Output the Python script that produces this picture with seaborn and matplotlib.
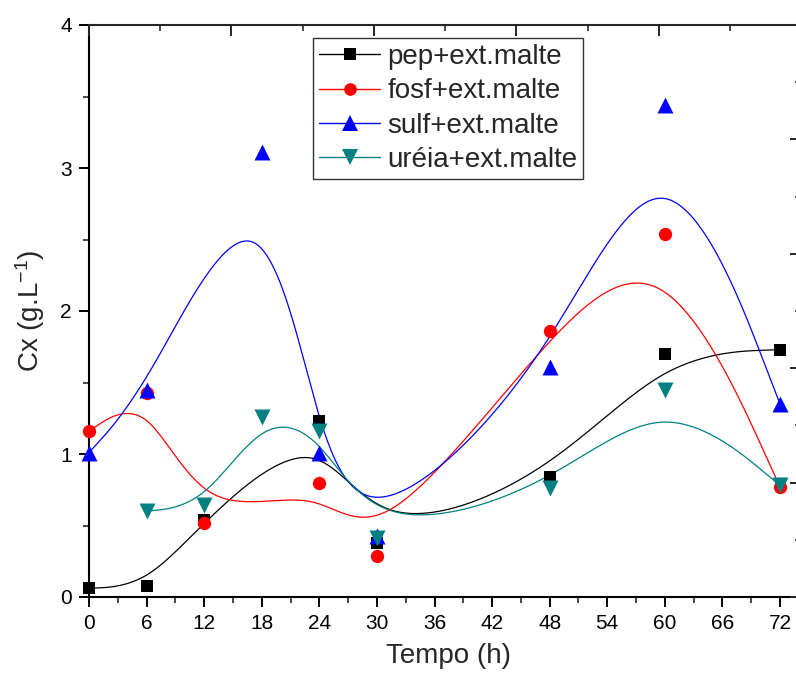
import numpy as np
import pandas as pd
import matplotlib
matplotlib.use("Agg")
import matplotlib.pyplot as plt
from matplotlib.lines import Line2D
from matplotlib.ticker import MultipleLocator
import seaborn as sns

# Biomass concentration (Cx, g/L) over time for each nitrogen source + malt extract
tempo_h = [0, 6, 12, 24, 30, 48, 60, 72]
pep = [0.06, 0.08, 0.54, 1.23, 0.38, 0.84, 1.70, 1.73]
fosf = [1.16, 1.43, 0.52, 0.80, 0.29, 1.86, 2.54, 0.77]

tempo_sulf = [0, 6, 18, 24, 30, 48, 60, 72]
sulf = [1.01, 1.45, 3.11, 1.01, 0.43, 1.61, 3.44, 1.35]

tempo_ureia = [6, 12, 18, 24, 30, 48, 60, 72]
ureia = [0.60, 0.64, 1.26, 1.16, 0.41, 0.76, 1.45, 0.78]

labels = ["pep+ext.malte", "fosf+ext.malte", "sulf+ext.malte", "uréia+ext.malte"]
colors = ["#000000", "#FF0000", "#0000FF", "#008080"]
markers = ["s", "o", "^", "v"]
msizes = [8.6, 9.6, 11.5, 11.5]

series = [
    (tempo_h, pep),
    (tempo_h, fosf),
    (tempo_sulf, sulf),
    (tempo_ureia, ureia),
]


def bspline_curve(xs, ys, per_seg=80):
    """Uniform cubic B-spline with the data points as control points
    (end points tripled so the curve starts and ends on them)."""
    P = np.column_stack([xs, ys]).astype(float)
    Q = np.vstack([P[:1], P[:1], P, P[-1:], P[-1:]])
    t = np.linspace(0, 1, per_seg)
    b0 = (1 - t) ** 3 / 6
    b1 = (3 * t ** 3 - 6 * t ** 2 + 4) / 6
    b2 = (-3 * t ** 3 + 3 * t ** 2 + 3 * t + 1) / 6
    b3 = t ** 3 / 6
    pts = []
    for i in range(len(Q) - 3):
        seg = (np.outer(b0, Q[i]) + np.outer(b1, Q[i + 1])
               + np.outer(b2, Q[i + 2]) + np.outer(b3, Q[i + 3]))
        pts.append(seg)
    C = np.vstack(pts)
    return C[:, 0], C[:, 1]


sns.set_style("white")
plt.rcParams["font.family"] = ["Liberation Sans", "DejaVu Sans"]
plt.rcParams["mathtext.fontset"] = "custom"
plt.rcParams["mathtext.rm"] = "Liberation Sans"
plt.rcParams["mathtext.it"] = "Liberation Sans"

W, H = 796, 684
fig = plt.figure(figsize=(W / 100, H / 100), dpi=100)

x0_px, y0_px, ytop_px = 89, 597, 25
px_per_h = (780 - 89) / 72.0
xmax = 75
ax = fig.add_axes([x0_px / W, 1 - y0_px / H, xmax * px_per_h / W, (y0_px - ytop_px) / H])

for (xs, ys), c, m, ms in zip(series, colors, markers, msizes):
    cx, cy = bspline_curve(xs, ys)
    sns.lineplot(x=cx, y=cy, sort=False, estimator=None, color=c, linewidth=0.9, ax=ax)
    sns.scatterplot(x=xs, y=ys, marker=m, s=ms ** 2, color=c, linewidth=0, ax=ax,
                    zorder=3, clip_on=False)

ax.set_xlim(0, xmax)
ax.set_ylim(0, 4)
ax.xaxis.set_minor_locator(MultipleLocator(3))
ax.yaxis.set_major_locator(MultipleLocator(1))
ax.yaxis.set_minor_locator(MultipleLocator(0.5))
ax.set_xticks(range(0, 73, 6))
ax.set_xticklabels([str(t) for t in range(0, 73, 6)])
for s in ["top", "right"]:
    ax.spines[s].set_visible(False)
for s in ["left", "bottom"]:
    ax.spines[s].set_linewidth(1.5)
    ax.spines[s].set_color("black")
ax.tick_params(which="major", direction="out", length=7.5, width=1.4, labelsize=15,
               pad=5, colors="black")
ax.tick_params(which="minor", direction="out", length=4, width=1.2)
ax.tick_params(axis="x", which="both", bottom=True)
ax.tick_params(axis="y", which="both", left=True)
ax.set_xlabel("Tempo (h)", fontsize=20, labelpad=7)
ax.set_ylabel("Cx (g.L$^{-1}$)", fontsize=20, labelpad=9)
ax.patch.set_alpha(0)

# Frame layer: top axis and right axis with inward ticks, no labels
ax2 = fig.add_axes([x0_px / W, 1 - y0_px / H, 712.5 / W, (y0_px - ytop_px) / H])
ax2.set_xlim(0, 5)
ax2.set_ylim(0, 5)
ax2.patch.set_alpha(0)
for s in ["left", "bottom"]:
    ax2.spines[s].set_visible(False)
for s in ["top", "right"]:
    ax2.spines[s].set_linewidth(1.5)
ax2.xaxis.set_major_locator(MultipleLocator(1))
ax2.xaxis.set_minor_locator(MultipleLocator(0.5))
ax2.yaxis.set_major_locator(MultipleLocator(1))
ax2.yaxis.set_minor_locator(MultipleLocator(0.5))
ax2.tick_params(axis="x", which="both", top=True, bottom=False, labeltop=False,
                labelbottom=False, direction="in")
ax2.tick_params(axis="y", which="both", right=True, left=False, labelright=False,
                labelleft=False, direction="in")
ax2.tick_params(which="major", length=8, width=1.4)
ax2.tick_params(which="minor", length=4.5, width=1.2)

handles = [Line2D([], [], color=c, lw=1, marker=m, markersize=ms * 0.95, markeredgewidth=0)
           for c, m, ms in zip(colors, markers, msizes)]
leg = fig.legend(handles, labels, loc="upper left",
                 bbox_to_anchor=(313 / W, 1 - 38 / H), bbox_transform=fig.transFigure,
                 fontsize=20, frameon=True, fancybox=False, framealpha=1,
                 edgecolor="#333333", handlelength=2.2, handletextpad=0.25,
                 labelspacing=0.3, borderpad=0.22, borderaxespad=0)
leg.get_frame().set_linewidth(1.0)

fig.savefig("out.png", dpi=100)
